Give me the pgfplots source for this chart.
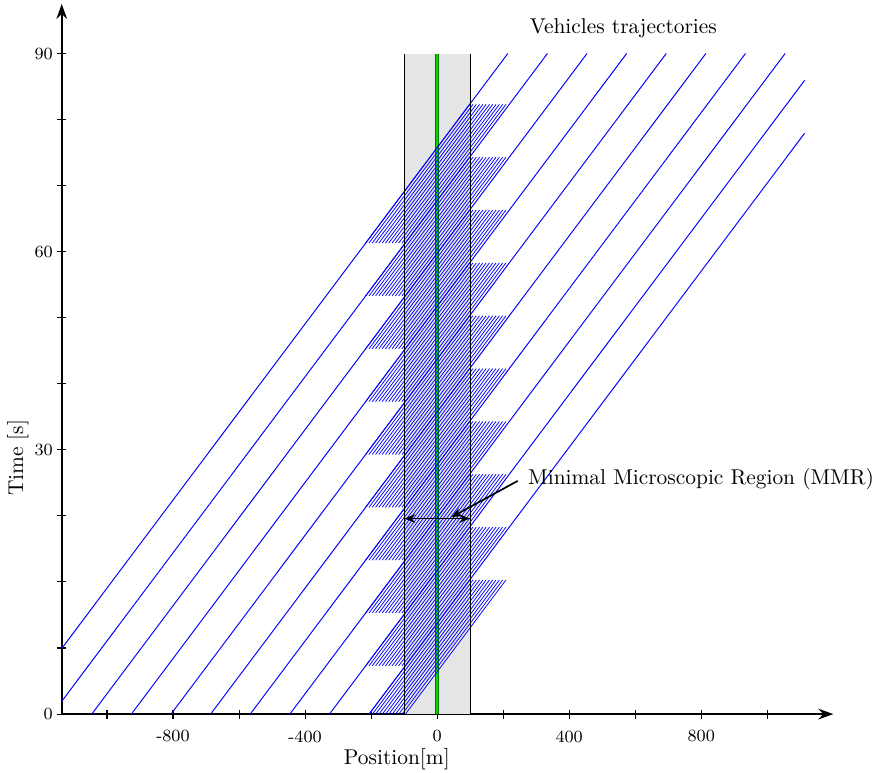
\documentclass[border=0pt]{standalone}
\usepackage{pgfplots}
\usepackage{pgfplotstable}
\pgfplotsset{compat=1.18}
\usetikzlibrary{arrows.meta}
\pgfplotstableread{
x y u v
-216.5 61.3 315 21
-206.5 61.3 315 21
-196.5 61.3 315 21
-186.5 61.3 315 21
-176.5 61.3 315 21
-166.5 61.3 315 21
-156.5 61.3 315 21
-146.5 61.3 315 21
-136.5 61.3 315 21
-126.5 61.3 315 21
-116.5 61.3 315 21
-106.5 61.3 315 21
-216.5 53.3 315 21
-206.5 53.3 315 21
-196.5 53.3 315 21
-186.5 53.3 315 21
-176.5 53.3 315 21
-166.5 53.3 315 21
-156.5 53.3 315 21
-146.5 53.3 315 21
-136.5 53.3 315 21
-126.5 53.3 315 21
-116.5 53.3 315 21
-106.5 53.3 315 21
-216.5 45.3 315 21
-206.5 45.3 315 21
-196.5 45.3 315 21
-186.5 45.3 315 21
-176.5 45.3 315 21
-166.5 45.3 315 21
-156.5 45.3 315 21
-146.5 45.3 315 21
-136.5 45.3 315 21
-126.5 45.3 315 21
-116.5 45.3 315 21
-106.5 45.3 315 21
-216.5 37.3 315 21
-206.5 37.3 315 21
-196.5 37.3 315 21
-186.5 37.3 315 21
-176.5 37.3 315 21
-166.5 37.3 315 21
-156.5 37.3 315 21
-146.5 37.3 315 21
-136.5 37.3 315 21
-126.5 37.3 315 21
-116.5 37.3 315 21
-106.5 37.3 315 21
-216.5 29.3 315 21
-206.5 29.3 315 21
-196.5 29.3 315 21
-186.5 29.3 315 21
-176.5 29.3 315 21
-166.5 29.3 315 21
-156.5 29.3 315 21
-146.5 29.3 315 21
-136.5 29.3 315 21
-126.5 29.3 315 21
-116.5 29.3 315 21
-106.5 29.3 315 21
-216.5 21.3 315 21
-206.5 21.3 315 21
-196.5 21.3 315 21
-186.5 21.3 315 21
-176.5 21.3 315 21
-166.5 21.3 315 21
-156.5 21.3 315 21
-146.5 21.3 315 21
-136.5 21.3 315 21
-126.5 21.3 315 21
-116.5 21.3 315 21
-106.5 21.3 315 21
-216.5 13.3 315 21
-206.5 13.3 315 21
-196.5 13.3 315 21
-186.5 13.3 315 21
-176.5 13.3 315 21
-166.5 13.3 315 21
-156.5 13.3 315 21
-146.5 13.3 315 21
-136.5 13.3 315 21
-126.5 13.3 315 21
-116.5 13.3 315 21
-106.5 13.3 315 21
-216.5 5.3 315 21
-206.5 5.3 315 21
-196.5 5.3 315 21
-186.5 5.3 315 21
-176.5 5.3 315 21
-166.5 5.3 315 21
-156.5 5.3 315 21
-146.5 5.3 315 21
-136.5 5.3 315 21
-126.5 5.3 315 21
-116.5 5.3 315 21
-106.5 5.3 315 21
-216.5 -2.7 315 21
-206.5 -2.7 315 21
-196.5 -2.7 315 21
-186.5 -2.7 315 21
-176.5 -2.7 315 21
-166.5 -2.7 315 21
-156.5 -2.7 315 21
-146.5 -2.7 315 21
-136.5 -2.7 315 21
-126.5 -2.7 315 21
-116.5 -2.7 315 21
-106.5 -2.7 315 21
-206 -10 304.5 20.3
-196 -10 304.5 20.3
-186 -10 304.5 20.3
-176 -10 304.5 20.3
-166 -10 304.5 20.3
-156 -10 304.5 20.3
-146 -10 304.5 20.3
-136 -10 304.5 20.3
-126 -10 304.5 20.3
-116 -10 304.5 20.3
-106 -10 304.5 20.3
-96 -10 304.5 20.3
}\hatchtable
\begin{document}
\begin{tikzpicture}
\begin{axis}[
  scale only axis, width=360.3pt, height=331.6pt,
  xmin=-1137, xmax=1200, ymin=-10, ymax=97.5,
  axis lines=left,
  axis line style={line width=0.8pt, -{Stealth[length=7pt,width=5pt]}},
  xtick={-1000,-800,...,1000},
  xticklabels={,-800,,-400,,0,,400,,800,},
  ytick={-10,0,...,90},
  yticklabels={0,,,,30,,,60,,,90},
  tick label style={font=\footnotesize},
  xticklabel style={yshift=-2pt},
  yticklabel style={xshift=1.5pt},
  tick style={black, line width=0.5pt},
  clip=false,
]
% bounding box of the picture
\path (axis cs:-1324,98.1) -- (axis cs:1312.5,-18.9);
% grey region
\addplot[fill=gray!20, draw=none] coordinates {(-100,-10) (-100,90) (100,90) (100,-10)} -- cycle;
% green centre line
\addplot[line width=1.9pt, green!45!black] coordinates {(0,-10) (0,90)};
\addplot[line width=1.0pt, green!85!black] coordinates {(0,-10) (0,90)};
% hatched microscopic trajectories
\addplot[blue, line width=0.35pt, quiver={u=\thisrow{u}, v=\thisrow{v}}] table[x=x, y=y] {\hatchtable};
% vehicle trajectories
\addplot[blue, line width=0.45pt] coordinates {(-1137,-0.07) (214,90)};
\addplot[blue, line width=0.45pt] coordinates {(-1137,-8.07) (334,90)};
\addplot[blue, line width=0.45pt] coordinates {(-1046,-10) (454,90)};
\addplot[blue, line width=0.45pt] coordinates {(-926,-10) (574,90)};
\addplot[blue, line width=0.45pt] coordinates {(-806,-10) (694,90)};
\addplot[blue, line width=0.45pt] coordinates {(-686,-10) (814,90)};
\addplot[blue, line width=0.45pt] coordinates {(-566,-10) (934,90)};
\addplot[blue, line width=0.45pt] coordinates {(-446,-10) (1054,90)};
\addplot[blue, line width=0.45pt] coordinates {(-326,-10) (1113,85.93)};
\addplot[blue, line width=0.45pt] coordinates {(-206,-10) (1113,77.93)};
% borders of the grey region
\addplot[black, line width=0.5pt] coordinates {(-100,-10) (-100,90)};
\addplot[black, line width=0.5pt] coordinates {(100,-10) (100,90)};
% annotations
\draw[line width=0.8pt, {Stealth[length=5pt,width=4pt]}-{Stealth[length=5pt,width=4pt]}] (axis cs:-99,19.6) -- (axis cs:99,19.6);
\draw[line width=0.8pt, -{Stealth[length=5pt,width=4pt]}] (axis cs:244,25.3) -- (axis cs:43,19.8);
\node[anchor=west, inner sep=0pt] at (axis cs:274.5,25.5) {Minimal Microscopic Region (MMR)};
\node[inner sep=0pt] at (axis cs:564,93.8) {Vehicles trajectories};
\node[inner sep=0pt] at (axis cs:-122,-16.8) {Position[m]};
\node[inner sep=0pt, rotate=90] at (axis cs:-1270,28.8) {Time [s]};
\end{axis}
\end{tikzpicture}
\end{document}
